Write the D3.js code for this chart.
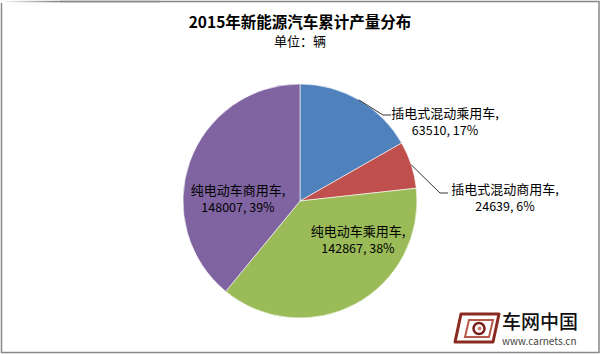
<!DOCTYPE html>
<meta charset="utf-8">
<style>
body { margin: 0; background: #fff; }
text { font-family: "Noto Sans CJK SC", "Noto Sans", sans-serif; }
.slices path { stroke: #fff; stroke-width: 0.6px; }
.leaders polyline { fill: none; stroke: #000; stroke-width: 0.8px; }
</style>
<svg class="chart" width="601" height="354"></svg>
<script src="https://cdn.jsdelivr.net/npm/d3@7"></script>
<script>

var categories = ["插电式混动乘用车", "插电式混动商用车", "纯电动车乘用车", "纯电动车商用车"];
var values = [63510, 24639, 142867, 148007];
var percentLabels = ["17%", "6%", "38%", "39%"];
var colors = ["#4f81bd", "#c0504d", "#9bbb59", "#8064a2"];

// where each label sits (x, y of the text centre); outside labels get a leader line
var labelPos = [
  {x: 445, y: 112, elbow: [383, 115], end: 391, outside: true},
  {x: 505, y: 188, elbow: [440, 193], end: 448, outside: true},
  {x: 358, y: 230, outside: false},
  {x: 238, y: 189, outside: false}
];

var svg = d3.select(".chart"),
    width = +svg.attr("width"),
    height = +svg.attr("height");

// frame
var grad = svg.append("defs").append("linearGradient")
    .attr("id", "fade").attr("x1", 0).attr("x2", 1).attr("y1", 0).attr("y2", 0);
grad.append("stop").attr("offset", "0%").attr("stop-color", "#fff");
grad.append("stop").attr("offset", "35%").attr("stop-color", "#888");
grad.append("stop").attr("offset", "100%").attr("stop-color", "#888");

svg.append("rect")
    .attr("x", 1.5).attr("y", 1.5)
    .attr("width", width - 3.5).attr("height", height - 3)
    .attr("fill", "#fff").attr("stroke", "#888").attr("stroke-width", 1.5);
svg.append("rect")
    .attr("x", 0).attr("y", 0).attr("width", 60).attr("height", 3)
    .attr("fill", "#fff");
svg.append("rect")
    .attr("x", 0).attr("y", 0.8).attr("width", 160).attr("height", 1.5)
    .attr("fill", "url(#fade)");

svg.append("text")
    .attr("x", 300).attr("y", 21)
    .attr("text-anchor", "middle")
    .attr("dominant-baseline", "central")
    .style("font-size", "15.5px").style("font-weight", "bold")
    .text("2015年新能源汽车累计产量分布");

svg.append("text")
    .attr("x", 300).attr("y", 40)
    .attr("text-anchor", "middle")
    .attr("dominant-baseline", "central")
    .style("font-size", "13px")
    .text("单位：辆");

var cx = 300, cy = 201, r = 117;

var data = categories.map(function(c, i) {
  return {name: c, value: values[i], pct: percentLabels[i], color: colors[i], pos: labelPos[i]};
});

var pie = d3.pie().sort(null).value(function(d) { return d.value; });
var arc = d3.arc().innerRadius(0).outerRadius(r);
var arcs = pie(data);

var g = svg.append("g").attr("transform", "translate(" + cx + "," + cy + ")");

g.append("g").attr("class", "slices")
  .selectAll("path")
  .data(arcs)
  .enter().append("path")
    .attr("d", arc)
    .attr("fill", function(d) { return d.data.color; });

// leader lines
svg.append("g").attr("class", "leaders")
  .selectAll("polyline")
  .data(arcs.filter(function(d) { return d.data.pos.outside; }))
  .enter().append("polyline")
    .attr("points", function(d) {
      var a = (d.startAngle + d.endAngle) / 2;
      var sx = cx + r * Math.sin(a), sy = cy - r * Math.cos(a);
      var p = d.data.pos;
      return [[sx, sy], p.elbow, [p.end, p.elbow[1]]].map(function(q) { return q.join(","); }).join(" ");
    });

var labels = svg.append("g").selectAll("g")
  .data(arcs)
  .enter().append("g");

labels.append("text")
    .attr("x", function(d) { return d.data.pos.x; })
    .attr("y", function(d) { return d.data.pos.y; })
    .attr("text-anchor", "middle")
    .attr("dominant-baseline", "central")
    .style("font-size", "13px")
    .text(function(d) { return d.data.name + ","; });

labels.append("text")
    .attr("x", function(d) { return d.data.pos.x; })
    .attr("y", function(d) { return d.data.pos.y + 17.5; })
    .attr("text-anchor", "middle")
    .attr("dominant-baseline", "central")
    .style("font-size", "12.5px")
    .text(function(d) { return d.data.value + ", " + d.data.pct; });

// watermark
var wm = svg.append("g").attr("transform", "translate(455,312)");
wm.append("path")
    .attr("d", "M6,2 L44,2 L38,30 L0,30 Z")
    .attr("fill", "none").attr("stroke", "#8a2a20").attr("stroke-width", 3)
    .attr("stroke-linejoin", "round");
wm.append("path")
    .attr("d", "M14,8 L38,8 L34,25 L10,25 Z")
    .attr("fill", "none").attr("stroke", "#b65a4a").attr("stroke-width", 2);
wm.append("circle").attr("cx", 24).attr("cy", 16.5).attr("r", 5.5)
    .attr("fill", "none").attr("stroke", "#7a1f18").attr("stroke-width", 2.5);
wm.append("circle").attr("cx", 24.5).attr("cy", 16.5).attr("r", 2)
    .attr("fill", "#c88070");

svg.append("text")
    .attr("x", 502).attr("y", 320)
    .attr("dominant-baseline", "central")
    .style("font-size", "19px").style("font-weight", "500")
    .attr("fill", "#111")
    .text("车网中国");
svg.append("text")
    .attr("x", 502).attr("y", 340)
    .attr("dominant-baseline", "central")
    .style("font-size", "10px")
    .attr("fill", "#444")
    .text("www.carnets.cn");

</script>
